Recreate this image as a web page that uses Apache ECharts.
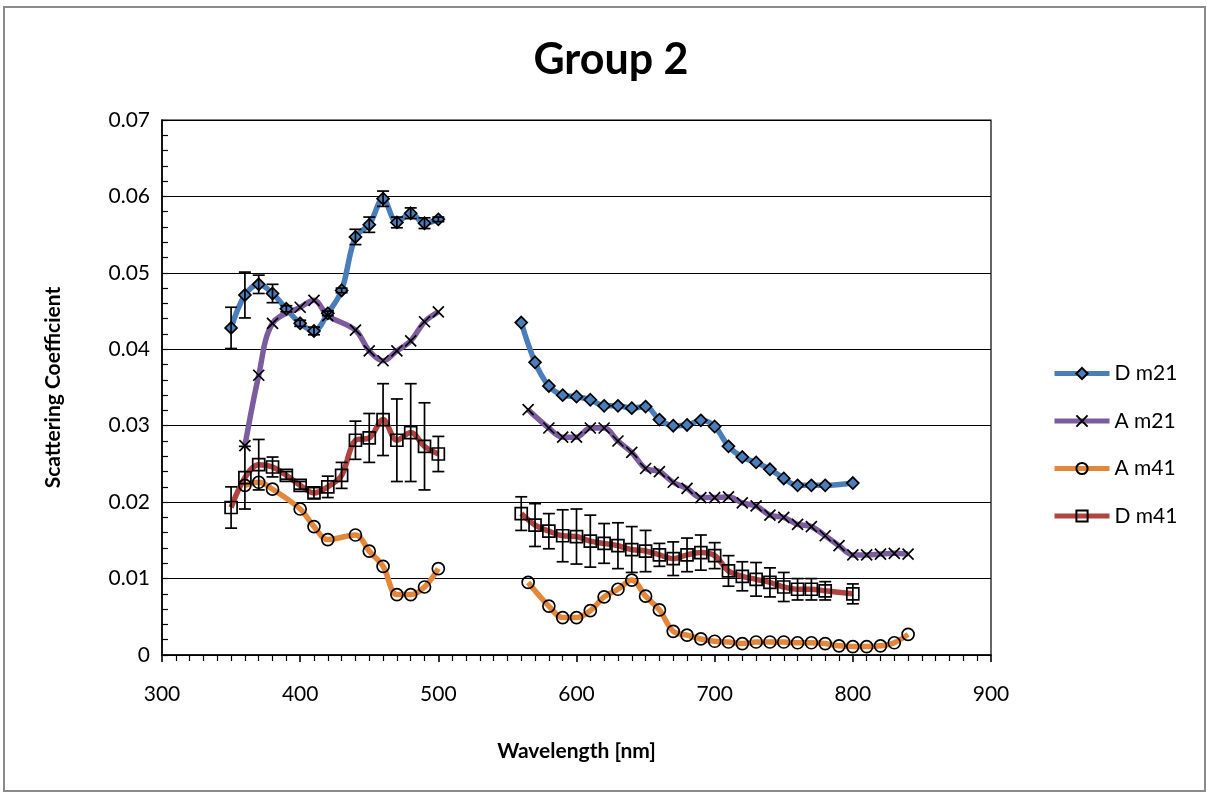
<!DOCTYPE html>
<html>
<head>
<meta charset="utf-8">
<script src="https://cdn.jsdelivr.net/npm/echarts@6/dist/echarts.min.js"></script>
<style>
html,body{margin:0;padding:0;background:#fff;}
#chart{width:1207px;height:793px;}
</style>
</head>
<body>
<div id="chart"></div>
<script>
// ---- Data ----
const seriesNames = ['D m21', 'A m21', 'A m41', 'D m41'];
const xTicks = [300, 400, 500, 600, 700, 800, 900];
const yTicks = [0, 0.01, 0.02, 0.03, 0.04, 0.05, 0.06, 0.07];

// D m21
const dm21_x1 = [350,360,370,380,390,400,410,420,430,440,450,460,470,480,490,500];
const dm21_y1 = [0.0428,0.0471,0.0485,0.0473,0.0453,0.0434,0.0424,0.0447,0.0477,0.0547,0.0563,0.0597,0.0566,0.0578,0.0565,0.0570];
const dm21_e1 = [0.0027,0.0030,0.0012,0.0012,0.0004,0.0004,0.0005,0.0003,0.0003,0.0010,0.0010,0.0010,0.0007,0.0007,0.0007,0.0003];
const dm21_x2 = [560,570,580,590,600,610,620,630,640,650,660,670,680,690,700,710,720,730,740,750,760,770,780,800];
const dm21_y2 = [0.0435,0.0383,0.0352,0.0340,0.0338,0.0334,0.0326,0.0326,0.0323,0.0325,0.0308,0.0300,0.0301,0.0307,0.0299,0.0273,0.0259,0.0252,0.0243,0.0231,0.0222,0.0222,0.0222,0.0225];

// A m21
const am21_x1 = [360,370,380,400,410,420,440,450,460,470,480,490,500];
const am21_y1 = [0.0274,0.0366,0.0434,0.0455,0.0464,0.0444,0.0425,0.0398,0.0385,0.0398,0.0411,0.0436,0.0449];
const am21_x2 = [565,580,590,600,610,620,630,640,650,660,670,680,690,700,710,720,730,740,750,760,770,780,790,800,810,820,830,840];
const am21_y2 = [0.0321,0.0297,0.0285,0.0285,0.0297,0.0297,0.0280,0.0265,0.0244,0.0240,0.0226,0.0218,0.0206,0.0206,0.0207,0.0199,0.0195,0.0183,0.0180,0.0171,0.0168,0.0156,0.0143,0.0131,0.0131,0.0132,0.0133,0.0132];

// A m41
const am41_x1 = [360,370,380,400,410,420,440,450,460,470,480,490,500];
const am41_y1 = [0.0222,0.0226,0.0217,0.0191,0.0168,0.0151,0.0157,0.0136,0.0116,0.0079,0.0079,0.0089,0.0113];
const am41_x2 = [565,580,590,600,610,620,630,640,650,660,670,680,690,700,710,720,730,740,750,760,770,780,790,800,810,820,830,840];
const am41_y2 = [0.0095,0.0064,0.0049,0.0049,0.0058,0.0076,0.0086,0.0098,0.0077,0.0059,0.0031,0.0026,0.0021,0.0018,0.0017,0.0015,0.0017,0.0017,0.0017,0.0016,0.0016,0.0015,0.0012,0.0011,0.0011,0.0012,0.0016,0.0027];

// D m41
const dm41_x1 = [350,360,370,380,390,400,410,420,430,440,450,460,470,480,490,500];
const dm41_y1 = [0.0193,0.0232,0.0249,0.0246,0.0235,0.0222,0.0212,0.0220,0.0235,0.0281,0.0284,0.0308,0.0281,0.0291,0.0273,0.0263];
const dm41_e1 = [0.0027,0.0041,0.0033,0.0013,0.0005,0.0005,0.0007,0.0014,0.0017,0.0025,0.0032,0.0047,0.0054,0.0064,0.0057,0.0023];
const dm41_x2 = [560,570,580,590,600,610,620,630,640,650,660,670,680,690,700,710,720,730,740,750,760,770,780,800];
const dm41_y2 = [0.0185,0.0170,0.0162,0.0156,0.0155,0.0149,0.0146,0.0143,0.0138,0.0136,0.0131,0.0126,0.0131,0.0134,0.0130,0.0110,0.0103,0.0099,0.0095,0.0089,0.0086,0.0086,0.0084,0.0080];
const dm41_e2 = [0.0022,0.0028,0.0023,0.0034,0.0036,0.0034,0.0026,0.0030,0.0030,0.0027,0.0015,0.0022,0.0022,0.0023,0.0017,0.0020,0.0019,0.0022,0.0019,0.0019,0.0014,0.0014,0.0012,0.0013];

// ---- Chart ----
const FONT = 'Lato, "Open Sans", sans-serif';
const colors = {
  'D m21': '#4a7ebb',
  'A m21': '#7b5c9e',
  'A m41': '#e3883a',
  'D m41': '#b0443f'
};
const symbols = {
  'D m21': {symbol: 'diamond', size: 12, fill: '#4a7ebb'},
  'A m21': {symbol: 'path://M0,0 L10,10 M10,0 L0,10', size: 11, fill: 'rgba(0,0,0,0)'},
  'A m41': {symbol: 'circle', size: 12, fill: 'rgba(0,0,0,0)'},
  'D m41': {symbol: 'rect', size: 12, fill: 'rgba(0,0,0,0)'}
};

function pairs(xs, ys) { return xs.map((x, i) => [x, ys[i]]); }
function errData(xs, ys, es) { return xs.map((x, i) => [x, ys[i] - es[i], ys[i] + es[i]]); }

function lineSeries(name, xs, ys) {
  const s = symbols[name];
  return {
    name: name,
    type: 'line',
    data: pairs(xs, ys),
    smooth: 0.35,
    showSymbol: true,
    symbol: s.symbol,
    symbolSize: s.size,
    lineStyle: {color: colors[name], width: 5.5},
    itemStyle: {color: s.fill, borderColor: '#000', borderWidth: 1.7},
    emphasis: {disabled: true},
    animation: false,
    z: 3
  };
}

function errSeries(xs, ys, es) {
  return {
    type: 'custom',
    name: 'err',
    data: errData(xs, ys, es),
    encode: {x: 0, y: [1, 2]},
    renderItem: function (params, api) {
      const x = api.value(0);
      const lo = api.coord([x, api.value(1)]);
      const hi = api.coord([x, api.value(2)]);
      const w = 6;
      const st = {stroke: '#000', lineWidth: 1.7};
      return {
        type: 'group',
        children: [
          {type: 'line', shape: {x1: lo[0], y1: lo[1], x2: hi[0], y2: hi[1]}, style: st},
          {type: 'line', shape: {x1: lo[0] - w, y1: lo[1], x2: lo[0] + w, y2: lo[1]}, style: st},
          {type: 'line', shape: {x1: hi[0] - w, y1: hi[1], x2: hi[0] + w, y2: hi[1]}, style: st}
        ]
      };
    },
    animation: false,
    silent: true,
    z: 4
  };
}

const chart = echarts.init(document.getElementById('chart'), null, {renderer: 'canvas'});
const option = {
  backgroundColor: '#fff',
  animation: false,
  title: {
    text: 'Group 2',
    left: 606,
    top: 34,
    textAlign: 'center',
    textStyle: {fontFamily: FONT, fontSize: 43, fontWeight: 'bold', color: '#000'}
  },
  graphic: [{
    type: 'rect',
    shape: {x: 4, y: 7, width: 1201, height: 784},
    style: {fill: 'none', stroke: '#8a8a8a', lineWidth: 2},
    silent: true,
    z: -10
  }],
  legend: {
    data: seriesNames,
    orient: 'vertical',
    left: 1052,
    top: 363,
    padding: 0,
    itemWidth: 55,
    itemHeight: 14,
    itemGap: 26.5,
    lineStyle: {width: 5},
    textStyle: {fontFamily: FONT, fontSize: 21, color: '#000'},
    selectedMode: false
  },
  grid: {
    left: 162, right: 216, top: 120, bottom: 138,
    show: true, borderColor: '#000', borderWidth: 1.2, backgroundColor: 'rgba(0,0,0,0)'
  },
  xAxis: [{
    type: 'value',
    min: xTicks[0], max: xTicks[xTicks.length - 1], interval: 100,
    name: 'Wavelength [nm]',
    nameLocation: 'middle',
    nameGap: 86,
    nameTextStyle: {fontFamily: FONT, fontSize: 21, fontWeight: 'bold', color: '#000'},
    axisLine: {show: true, lineStyle: {color: '#000', width: 1.6}},
    axisTick: {show: false},
    minorTick: {show: true, splitNumber: 10, length: 6, lineStyle: {color: '#000', width: 1.2}},
    axisLabel: {margin: 29, fontFamily: FONT, fontSize: 21, color: '#000'},
    splitLine: {show: false}
  }, {
    type: 'value',
    gridIndex: 0,
    position: 'bottom',
    min: xTicks[0], max: xTicks[xTicks.length - 1], interval: 100,
    axisLine: {show: false},
    axisTick: {show: true, inside: false, length: 7, lineStyle: {color: '#000', width: 1.6}},
    axisLabel: {show: false},
    splitLine: {show: false}
  }],
  yAxis: {
    type: 'value',
    min: yTicks[0], max: yTicks[yTicks.length - 1], interval: 0.01,
    name: 'Scattering Coefficient',
    nameLocation: 'middle',
    nameGap: 98,
    nameTextStyle: {fontFamily: FONT, fontSize: 21, fontWeight: 'bold', color: '#000'},
    axisLine: {show: true, lineStyle: {color: '#000', width: 1.6}},
    axisTick: {show: true, inside: true, length: 6, lineStyle: {color: '#000', width: 1.2}},
    minorTick: {show: true, splitNumber: 5, length: 6, lineStyle: {color: '#000', width: 1.2}},
    axisLabel: {margin: 12, fontFamily: FONT, fontSize: 21, color: '#000',
      formatter: v => String(Math.round(v * 100) / 100)},
    splitLine: {show: true, lineStyle: {color: '#000', width: 1.2}}
  },
  series: [
    lineSeries('D m21', dm21_x1, dm21_y1),
    lineSeries('D m21', dm21_x2, dm21_y2),
    errSeries(dm21_x1, dm21_y1, dm21_e1),
    lineSeries('A m21', am21_x1, am21_y1),
    lineSeries('A m21', am21_x2, am21_y2),
    lineSeries('A m41', am41_x1, am41_y1),
    lineSeries('A m41', am41_x2, am41_y2),
    lineSeries('D m41', dm41_x1, dm41_y1),
    lineSeries('D m41', dm41_x2, dm41_y2),
    errSeries(dm41_x1, dm41_y1, dm41_e1),
    errSeries(dm41_x2, dm41_y2, dm41_e2)
  ]
};
chart.setOption(option);
</script>
</body>
</html>
